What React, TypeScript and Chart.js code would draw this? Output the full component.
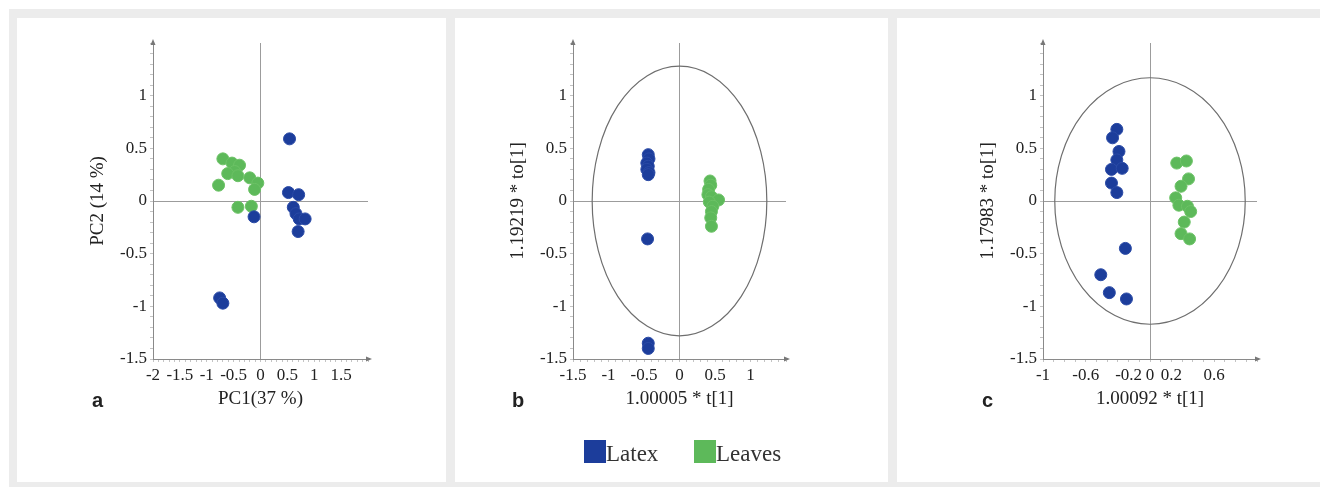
import React, { useEffect, useRef } from 'react';
import { Chart, registerables } from 'chart.js';

Chart.register(...registerables);

// ---------- data ----------
const seriesNames = ['Latex', 'Leaves'];

// panel a: PCA scores (PC1, PC2)
const latexA: [number, number][] = [
  [0.54, 0.59], [0.52, 0.08], [0.71, 0.06], [0.61, -0.06], [0.66, -0.12],
  [0.72, -0.17], [0.83, -0.17], [0.70, -0.29], [-0.12, -0.15], [-0.76, -0.92], [-0.70, -0.97],
];
const leavesA: [number, number][] = [
  [-0.70, 0.40], [-0.53, 0.36], [-0.39, 0.34], [-0.48, 0.28], [-0.61, 0.26], [-0.42, 0.24],
  [-0.20, 0.22], [-0.05, 0.17], [-0.11, 0.11], [-0.78, 0.15], [-0.42, -0.06], [-0.17, -0.05],
];

// panel b: OPLS-DA scores
const latexB: [number, number][] = [
  [-0.44, 0.44], [-0.43, 0.40], [-0.46, 0.36], [-0.44, 0.33], [-0.46, 0.30],
  [-0.43, 0.27], [-0.44, 0.25], [-0.45, -0.36], [-0.44, -1.35], [-0.44, -1.40],
];
const leavesB: [number, number][] = [
  [0.43, 0.19], [0.44, 0.15], [0.41, 0.11], [0.40, 0.06], [0.45, 0.04], [0.55, 0.01],
  [0.42, -0.01], [0.47, -0.05], [0.45, -0.10], [0.44, -0.16], [0.45, -0.24],
];

// panel c: OPLS-DA scores
const latexC: [number, number][] = [
  [-0.31, 0.68], [-0.35, 0.60], [-0.29, 0.47], [-0.31, 0.39], [-0.36, 0.30], [-0.26, 0.31],
  [-0.36, 0.17], [-0.31, 0.08], [-0.23, -0.45], [-0.46, -0.70], [-0.38, -0.87], [-0.22, -0.93],
];
const leavesC: [number, number][] = [
  [0.25, 0.36], [0.34, 0.38], [0.36, 0.21], [0.29, 0.14], [0.24, 0.03], [0.27, -0.04],
  [0.35, -0.05], [0.38, -0.10], [0.32, -0.20], [0.29, -0.31], [0.37, -0.36],
];

// Hotelling T2 ellipse radii (data units)
const ellipseB = { rx: 1.23, ry: 1.28 };
const ellipseC = { rx: 0.89, ry: 1.17 };

// tick labels
const yTickLabels = [-1.5, -1, -0.5, 0, 0.5, 1];
const xTickLabelsA = [-2, -1.5, -1, -0.5, 0, 0.5, 1, 1.5];
const xTickLabelsB = [-1.5, -1, -0.5, 0, 0.5, 1];
const xTickLabelsC = [-1, -0.6, -0.2, 0, 0.2, 0.6];

const xTitles = ['PC1(37 %)', '1.00005 * t[1]', '1.00092 * t[1]'];
const yTitles = ['PC2 (14 %)', '1.19219 * to[1]', '1.17983 * to[1]'];
const panelLetters = ['a', 'b', 'c'];

// ---------- styles ----------
const BLUE = '#1c3d9b';
const BLUE_BORDER = '#2a4aa6';
const GREEN = '#5db95a';
const GREEN_BORDER = '#6cc266';
const SERIF = '"Liberation Serif", "Times New Roman", serif';
const SANS = '"Liberation Sans", Arial, sans-serif';
const TEXT = '#222';

type PanelCfg = {
  latex: [number, number][];
  leaves: [number, number][];
  xMin: number; xMax: number;
  xTicks: number[];
  ellipse: { rx: number; ry: number } | null;
  left: number; right: number; // chart area in page px
  xTitle: string; yTitle: string;
  letter: string; letterLeft: number;
};

const panels: PanelCfg[] = [
  { latex: latexA, leaves: leavesA, xMin: -2, xMax: 2, xTicks: xTickLabelsA, ellipse: null,
    left: 153, right: 368, xTitle: xTitles[0], yTitle: yTitles[0], letter: panelLetters[0], letterLeft: 92 },
  { latex: latexB, leaves: leavesB, xMin: -1.5, xMax: 1.5, xTicks: xTickLabelsB, ellipse: ellipseB,
    left: 573, right: 786, xTitle: xTitles[1], yTitle: yTitles[1], letter: panelLetters[1], letterLeft: 512 },
  { latex: latexC, leaves: leavesC, xMin: -1, xMax: 1, xTicks: xTickLabelsC, ellipse: ellipseC,
    left: 1043, right: 1257, xTitle: xTitles[2], yTitle: yTitles[2], letter: panelLetters[2], letterLeft: 982 },
];

const Y_AXIS_W = 100;
const PAD_R = 20;
const CHART_TOP = 43;
const CHART_BOTTOM = 359;
const X_AXIS_H = 60;
const CANVAS_H = 488;

const labelFor = (v: number, list: number[]) => {
  const m = list.find((t) => Math.abs(t - v) < 1e-6);
  return m === undefined ? '' : String(m);
};

const decorPlugin = (ellipse: { rx: number; ry: number } | null) => ({
  id: 'decor',
  beforeDatasetsDraw(chart: any) {
    if (!ellipse) return;
    const { ctx, scales } = chart;
    const x = scales.x, y = scales.y;
    const cx = x.getPixelForValue(0), cy = y.getPixelForValue(0);
    const rx = Math.abs(x.getPixelForValue(ellipse.rx) - cx);
    const ry = Math.abs(y.getPixelForValue(ellipse.ry) - cy);
    ctx.save();
    ctx.strokeStyle = '#6e6e6e';
    ctx.lineWidth = 1.2;
    ctx.beginPath();
    ctx.ellipse(cx, cy, rx, ry, 0, 0, Math.PI * 2);
    ctx.stroke();
    ctx.restore();
  },
  afterDraw(chart: any) {
    const { ctx, chartArea } = chart;
    const { left, top, right, bottom } = chartArea;
    ctx.save();
    ctx.fillStyle = '#777';
    ctx.beginPath();
    ctx.moveTo(left, top - 4);
    ctx.lineTo(left - 2.5, top + 2);
    ctx.lineTo(left + 2.5, top + 2);
    ctx.closePath();
    ctx.fill();
    ctx.beginPath();
    ctx.moveTo(right + 4, bottom);
    ctx.lineTo(right - 2, bottom - 2.5);
    ctx.lineTo(right - 2, bottom + 2.5);
    ctx.closePath();
    ctx.fill();
    ctx.restore();
  },
});

function Panel({ cfg }: { cfg: PanelCfg }) {
  const ref = useRef<HTMLCanvasElement>(null);
  const width = cfg.right - cfg.left + Y_AXIS_W + PAD_R;
  useEffect(() => {
    const zeroColor = (c: any) =>
      c && c.tick && Math.abs(c.tick.value) < 1e-9 ? '#9c9c9c' : 'rgba(0,0,0,0)';
    const chart = new Chart(ref.current!, {
      type: 'scatter',
      data: {
        datasets: [
          {
            label: seriesNames[0],
            data: cfg.latex.map(([x, y]) => ({ x, y })),
            backgroundColor: BLUE, borderColor: BLUE_BORDER, borderWidth: 1,
            pointRadius: 6, pointHoverRadius: 6,
          },
          {
            label: seriesNames[1],
            data: cfg.leaves.map(([x, y]) => ({ x, y })),
            backgroundColor: GREEN, borderColor: GREEN_BORDER, borderWidth: 1,
            pointRadius: 6, pointHoverRadius: 6,
          },
        ],
      },
      options: {
        animation: false,
        responsive: false,
        devicePixelRatio: 1,
        events: [],
        layout: {
          autoPadding: false,
          padding: { left: 0, top: CHART_TOP, right: PAD_R, bottom: CANVAS_H - CHART_BOTTOM - X_AXIS_H },
        },
        plugins: { legend: { display: false }, tooltip: { enabled: false } },
        scales: {
          x: {
            type: 'linear', position: 'bottom', min: cfg.xMin, max: cfg.xMax,
            afterFit: (s: any) => { s.height = X_AXIS_H; },
            ticks: {
              stepSize: 0.1, autoSkip: false, maxRotation: 0, minRotation: 0, padding: 3,
              font: { family: SERIF, size: 17 }, color: TEXT,
              callback: (v: any) => labelFor(Number(v), cfg.xTicks),
            },
            grid: { color: zeroColor, tickColor: '#c4c4c4', tickLength: 3, lineWidth: 1 },
            border: { display: true, color: '#8a8a8a', width: 1 },
            title: {
              display: true, text: cfg.xTitle, font: { family: SERIF, size: 19 }, color: TEXT,
              padding: { top: 0, bottom: 9 },
            },
          },
          y: {
            type: 'linear', position: 'left', min: -1.5, max: 1.5,
            afterFit: (s: any) => { s.width = Y_AXIS_W; },
            ticks: {
              stepSize: 0.1, autoSkip: false, padding: 3,
              font: { family: SERIF, size: 17 }, color: TEXT,
              callback: (v: any) => labelFor(Number(v), yTickLabels),
            },
            grid: { color: zeroColor, tickColor: '#c4c4c4', tickLength: 3, lineWidth: 1 },
            border: { display: true, color: '#8a8a8a', width: 1 },
            title: {
              display: true, text: cfg.yTitle, font: { family: SERIF, size: 19 }, color: TEXT,
              padding: { top: 34, bottom: 0 },
            },
          },
        },
      } as any,
      plugins: [decorPlugin(cfg.ellipse)],
    });
    return () => chart.destroy();
  }, []);
  return (
    <>
      <canvas
        ref={ref}
        width={width}
        height={CANVAS_H}
        style={{ position: 'absolute', left: cfg.left - Y_AXIS_W, top: 0, width, height: CANVAS_H }}
      />
      <div
        style={{
          position: 'absolute', left: cfg.letterLeft, top: 390, font: `bold 20px ${SANS}`,
          lineHeight: '20px', color: '#222',
        }}
      >
        {cfg.letter}
      </div>
    </>
  );
}

export default function App() {
  const legendColors = [BLUE, GREEN];
  const legendLefts = [584, 694];
  return (
    <div style={{ position: 'absolute', left: 0, top: 0, width: 1320, height: 488, background: '#fff', overflow: 'hidden' }}>
      <div style={{ position: 'absolute', left: 9, top: 9, width: 1311, height: 478, background: '#ececec' }} />
      <div style={{ position: 'absolute', left: 17, top: 18, width: 429, height: 464, background: '#fff' }} />
      <div style={{ position: 'absolute', left: 455, top: 18, width: 433, height: 464, background: '#fff' }} />
      <div style={{ position: 'absolute', left: 897, top: 18, width: 423, height: 464, background: '#fff' }} />
      {panels.map((p, i) => (
        <Panel key={i} cfg={p} />
      ))}
      {seriesNames.map((name, i) => (
        <div key={name} style={{ position: 'absolute', left: legendLefts[i], top: 440, height: 23, display: 'flex' }}>
          <div style={{ width: 22, height: 23, background: legendColors[i] }} />
          <div style={{ font: `23px ${SERIF}`, lineHeight: '23px', marginTop: 2, color: '#333' }}>{name}</div>
        </div>
      ))}
    </div>
  );
}
